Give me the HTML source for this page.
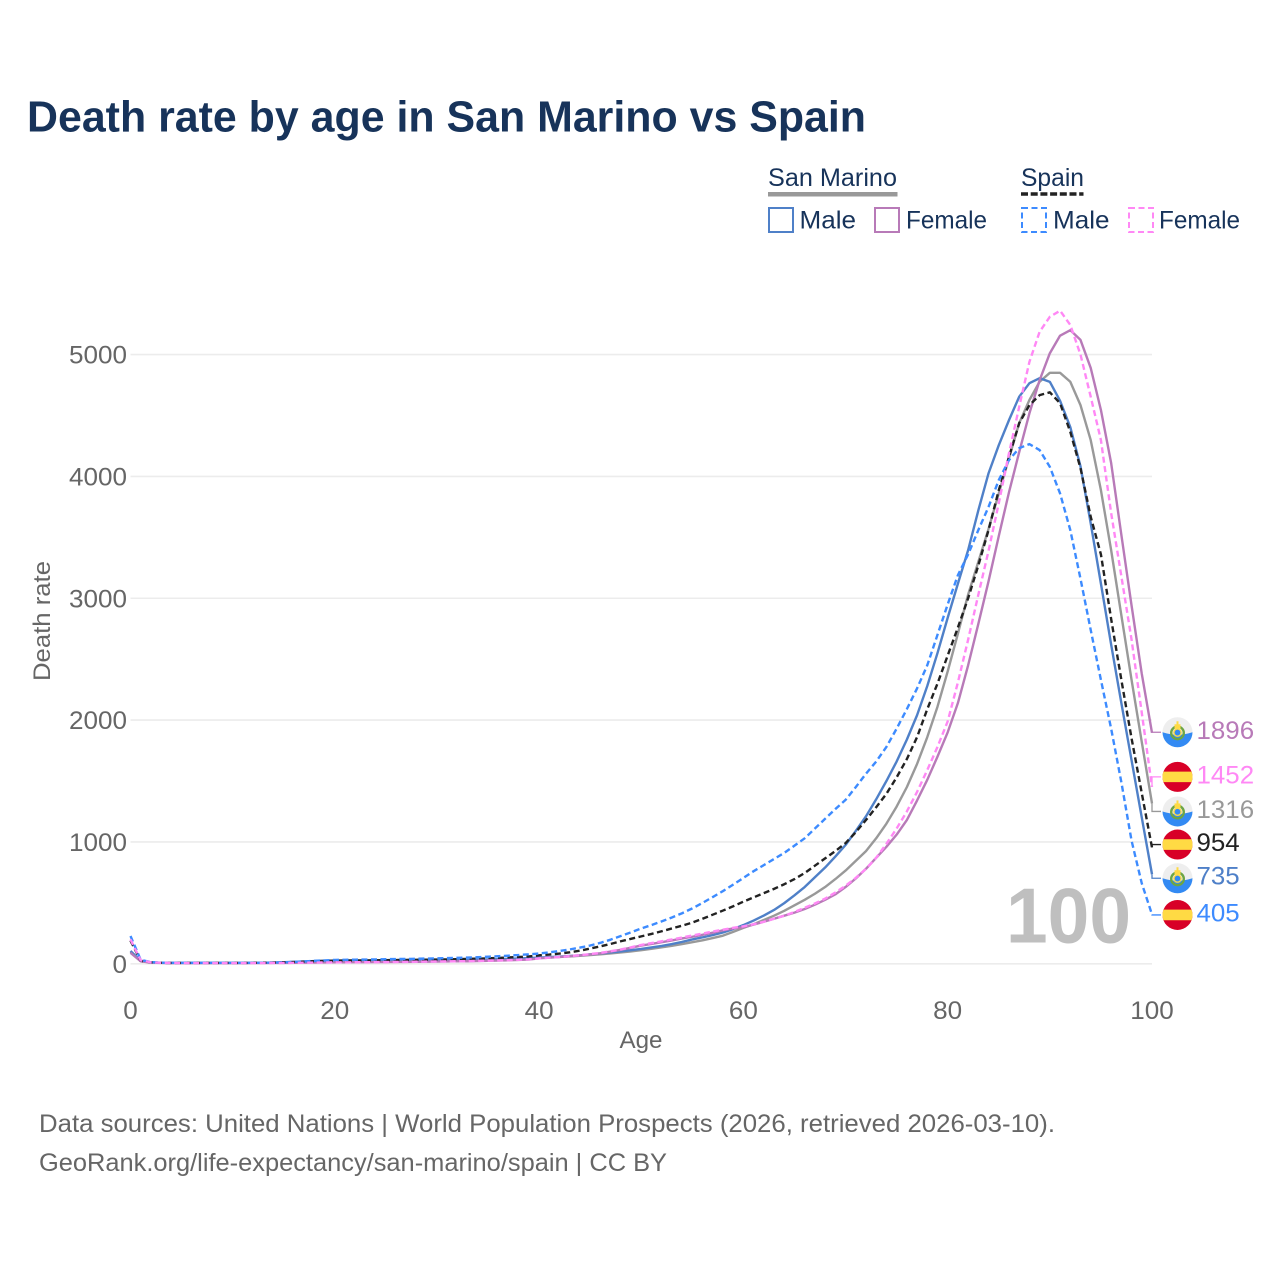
<!DOCTYPE html>
<html lang="en">
<head>
<meta charset="utf-8">
<title>Death rate by age in San Marino vs Spain</title>
<style>
  html,body{margin:0;padding:0;background:#fff;}
  svg{display:block;font-family:"Liberation Sans",sans-serif;}
</style>
</head>
<body>
<svg id="chart" xmlns="http://www.w3.org/2000/svg" width="1280" height="1280" viewBox="0 0 1280 1280">
  <rect x="0" y="0" width="1280" height="1280" fill="#ffffff"/>
  <text x="27" y="131.5" font-size="44" font-weight="700" fill="#17335a" textLength="839" lengthAdjust="spacingAndGlyphs">Death rate by age in San Marino vs Spain</text>

  <g font-size="25" fill="#17335a">
    <text x="768" y="186" textLength="129" lengthAdjust="spacingAndGlyphs">San Marino</text>
    <line x1="768" y1="194.3" x2="897.5" y2="194.3" stroke="#999999" stroke-width="4.5"/>
    <text x="1021" y="186" textLength="63" lengthAdjust="spacingAndGlyphs">Spain</text>
    <line x1="1021" y1="194" x2="1083.5" y2="194" stroke="#222222" stroke-width="3.5" stroke-dasharray="7,2.7"/>

    <g>
      <rect x="769" y="208" width="24" height="24" fill="#fff" stroke="#4f80c8" stroke-width="2"/>
      <text x="799.5" y="228.5" textLength="56.5" lengthAdjust="spacingAndGlyphs">Male</text>
    </g>
    <g>
      <rect x="875" y="208" width="24" height="24" fill="#fff" stroke="#b87ab8" stroke-width="2"/>
      <text x="906" y="228.5" textLength="81" lengthAdjust="spacingAndGlyphs">Female</text>
    </g>
    <g>
      <rect x="1022" y="208" width="24" height="24" fill="#fff" stroke="#3d8bff" stroke-width="2" stroke-dasharray="6,3.5"/>
      <text x="1053" y="228.5" textLength="56.5" lengthAdjust="spacingAndGlyphs">Male</text>
    </g>
    <g>
      <rect x="1129" y="208" width="24" height="24" fill="#fff" stroke="#ff88f5" stroke-width="2" stroke-dasharray="6,3.5"/>
      <text x="1159" y="228.5" textLength="81" lengthAdjust="spacingAndGlyphs">Female</text>
    </g>
  </g>

  <g id="grid"></g>
  <g id="yticks"></g>
  <g id="xticks"></g>

  <text transform="translate(50,621) rotate(-90)" text-anchor="middle" font-size="24" fill="#666666" textLength="120" lengthAdjust="spacingAndGlyphs">Death rate</text>
  <text x="641" y="1048" text-anchor="middle" font-size="24" fill="#666666" textLength="43" lengthAdjust="spacingAndGlyphs">Age</text>

  <text x="1006" y="942.5" font-size="78" font-weight="700" fill="#bfbfbf" textLength="125" lengthAdjust="spacingAndGlyphs">100</text>

  <g id="lines"></g>
  <g id="endlabels"></g>

  <g font-size="25" fill="#666666">
    <text x="39" y="1132" textLength="1016" lengthAdjust="spacingAndGlyphs">Data sources: United Nations | World Population Prospects (2026, retrieved 2026-03-10).</text>
    <text x="39" y="1171" textLength="628" lengthAdjust="spacingAndGlyphs">GeoRank.org/life-expectancy/san-marino/spain | CC BY</text>
  </g>
</svg>

<script>
// Age categories and tick labels
const xTicks = [0, 20, 40, 60, 80, 100];
const yTicks = [0, 1000, 2000, 3000, 4000, 5000];

// Death rate per series, index = age 0..100
const sanMarinoTotal = [
  100,22,10,8,7,7,7,7,7,7,
  7,7,8,9,10,12,14,16,18,20,
  21,22,22,23,23,23,24,24,25,26,
  27,28,29,30,32,34,36,38,41,44,
  48,52,56,61,66,72,78,85,93,102,
  112,123,135,148,162,177,193,211,231,262,
  295,325,360,395,435,480,525,575,630,695,
  765,845,925,1030,1150,1290,1450,1640,1860,2110,
  2400,2710,3030,3300,3570,3860,4150,4437,4627,4777,
  4850,4850,4777,4585,4298,3887,3395,2860,2330,1820,
  1316];
const sanMarinoMale = [
  105,25,12,8,7,7,7,7,7,7,
  7,7,8,9,10,13,16,19,22,24,
  25,26,26,26,26,26,27,27,27,28,
  29,30,31,32,34,36,38,41,44,47,
  51,55,59,64,70,78,85,93,102,112,
  122,134,147,162,180,200,217,236,257,285,
  318,355,396,442,498,562,630,710,790,880,
  975,1090,1210,1350,1500,1660,1840,2040,2280,2550,
  2840,3120,3395,3722,4026,4256,4462,4654,4765,4806,
  4776,4620,4405,4083,3615,3120,2620,2140,1670,1200,
  735];
const sanMarinoFemale = [
  90,20,9,7,6,6,6,6,6,6,
  6,6,6,6,7,7,8,9,10,11,
  12,12,13,13,14,14,15,15,16,17,
  18,19,20,21,23,25,27,29,32,35,
  45,50,56,62,69,77,86,100,115,132,
  150,163,177,192,208,222,238,255,275,290,
  300,322,345,370,395,420,450,485,525,570,
  630,700,780,870,960,1060,1180,1340,1510,1700,
  1900,2140,2450,2790,3140,3510,3870,4200,4518,4790,
  5011,5155,5200,5120,4890,4545,4110,3520,2940,2380,
  1896];
const spainTotal = [
  190,25,12,8,7,7,7,7,7,7,
  7,7,8,9,10,12,14,17,21,24,
  26,27,27,28,29,30,31,32,33,34,
  35,36,38,40,42,45,48,52,56,60,
  70,76,84,94,108,125,143,163,185,205,
  225,245,267,290,313,338,370,403,437,472,
  510,545,580,615,653,695,745,805,865,925,
  990,1080,1180,1285,1395,1530,1680,1860,2090,2300,
  2530,2760,3000,3270,3560,3887,4160,4437,4585,4667,
  4690,4600,4366,4068,3668,3360,2830,2330,1850,1400,
  954];
const spainMale = [
  228,32,14,9,8,8,8,8,8,8,
  8,8,8,9,10,12,15,19,24,28,
  32,33,34,35,36,38,39,40,41,43,
  45,47,49,51,54,58,62,67,72,78,
  84,94,105,118,133,150,172,198,228,258,
  290,318,348,380,415,455,500,548,597,650,
  705,760,810,860,910,970,1030,1110,1190,1270,
  1345,1450,1560,1660,1780,1930,2090,2260,2450,2700,
  2950,3190,3360,3560,3750,3970,4134,4232,4265,4216,
  4078,3860,3560,3160,2740,2330,1930,1490,1010,660,
  405];
const spainFemale = [
  200,28,12,8,7,6,6,6,6,6,
  6,6,6,6,7,7,8,9,10,11,
  12,12,13,13,14,14,15,16,17,18,
  19,20,21,22,24,26,28,30,33,37,
  44,50,56,63,70,80,90,103,118,135,
  155,170,185,200,216,232,248,265,280,295,
  308,325,345,370,395,425,460,495,535,585,
  640,705,780,870,985,1110,1250,1410,1590,1780,
  1990,2310,2660,3030,3390,3780,4190,4572,4940,5187,
  5310,5360,5243,5000,4654,4298,3700,3180,2660,2060,
  1452];

const NS = 'http://www.w3.org/2000/svg';
const xScale = age => 130.5 + age * 10.215;
const yScale = v => 963.8 - v * 0.12185;

function mk(tag, attrs, parent) {
  const el = document.createElementNS(NS, tag);
  for (const k in attrs) el.setAttribute(k, attrs[k]);
  parent.appendChild(el);
  return el;
}

// Gridlines and y ticks
const gridG = document.getElementById('grid');
const yG = document.getElementById('yticks');
yTicks.forEach(t => {
  const line = mk('line', {x1: xScale(0), x2: xScale(100), y1: yScale(t), y2: yScale(t), stroke: '#ececec', 'stroke-width': 1.6}, gridG);
  
  
  const label = mk('text', {x: 127, y: yScale(t) + 9, 'text-anchor': 'end', 'font-size': 25, fill: '#666666', textLength: String(t).length * 14.5, lengthAdjust: 'spacingAndGlyphs'}, yG);
  label.textContent = t;
  
  
});

// X ticks
const xG = document.getElementById('xticks');
xTicks.forEach(t => {
  const label = mk('text', {x: xScale(t), y: 1019, 'text-anchor': 'middle', 'font-size': 25, fill: '#666666', textLength: String(t).length * 14.5, lengthAdjust: 'spacingAndGlyphs'}, xG);
  label.textContent = t;
  
  
});

// Series
const series = [
  {key: 'san-marino-total',  values: sanMarinoTotal,  color: '#999999', dash: null, flag: 'sm', nudge: 8},
  {key: 'san-marino-male',   values: sanMarinoMale,   color: '#4f80c8', dash: null, flag: 'sm', nudge: 4},
  {key: 'san-marino-female', values: sanMarinoFemale, color: '#b87ab8', dash: null, flag: 'sm', nudge: -0.5},
  {key: 'spain-total',       values: spainTotal,      color: '#222222', dash: '6,3.5', flag: 'es', nudge: -3},
  {key: 'spain-male',        values: spainMale,       color: '#3d8bff', dash: '6,3.5', flag: 'es', nudge: 0.5},
  {key: 'spain-female',      values: spainFemale,     color: '#ff88f5', dash: '6,3.5', flag: 'es', nudge: -10}
];

const linesG = document.getElementById('lines');
const endG = document.getElementById('endlabels');

function drawFlag(kind, cx, cy, parent, key) {
  const g = mk('g', {transform: 'translate(' + cx + ',' + cy + ')'}, parent);
  
  
  if (kind === 'es') {
    mk('circle', {r: 15, fill: '#d80027'}, g);
    mk('path', {d: 'M-14.03,-5.3 L14.03,-5.3 A15,15 0 0 1 14.03,5.3 L-14.03,5.3 A15,15 0 0 1 -14.03,-5.3 Z', fill: '#ffda44'}, g);
  } else {
    mk('circle', {r: 15, fill: '#eeeeee'}, g);
    mk('path', {d: 'M-15,0 Q-7,2.5 0,2.5 Q7,2.5 15,0 A15,15 0 0 1 -15,0 Z', fill: '#338af3'}, g);
    mk('circle', {r: 6.3, cy: 0.6, fill: 'none', stroke: '#6da544', 'stroke-width': 2.4}, g);
    mk('circle', {r: 4.3, cy: 0.3, fill: '#ffda44'}, g);
    mk('circle', {r: 2.9, cy: 0.3, fill: '#338af3'}, g);
    mk('rect', {x: -3, y: -8, width: 6, height: 4.5, fill: '#ffda44'}, g);
    mk('rect', {x: -1, y: -11, width: 2, height: 3.5, fill: '#ffda44'}, g);
  }
}

series.forEach(s => {
  const d = s.values.map((v, age) => (age ? 'L' : 'M') + xScale(age).toFixed(2) + ',' + yScale(v).toFixed(2)).join('');
  const attrs = {d: d, fill: 'none', stroke: s.color, 'stroke-width': 2.4, 'stroke-linejoin': 'round'};
  if (s.dash) attrs['stroke-dasharray'] = s.dash;
  const path = mk('path', attrs, linesG);
  
  

  const last = s.values[s.values.length - 1];
  const endX = xScale(100);
  const endY = yScale(last);
  const labelY = endY + s.nudge;

  const leader = mk('path', {d: 'M' + endX + ',' + endY + 'L' + endX + ',' + labelY + 'L1161,' + labelY, fill: 'none', stroke: s.color, 'stroke-width': 1.3}, endG);
  
  

  drawFlag(s.flag, 1177.5, labelY, endG, s.key);

  const label = mk('text', {x: 1196.5, y: labelY + 6.5, 'font-size': 25, fill: s.color, textLength: String(last).length * 14.4, lengthAdjust: 'spacingAndGlyphs'}, endG);
  label.textContent = last;
  
  
});
</script>
</body>
</html>
